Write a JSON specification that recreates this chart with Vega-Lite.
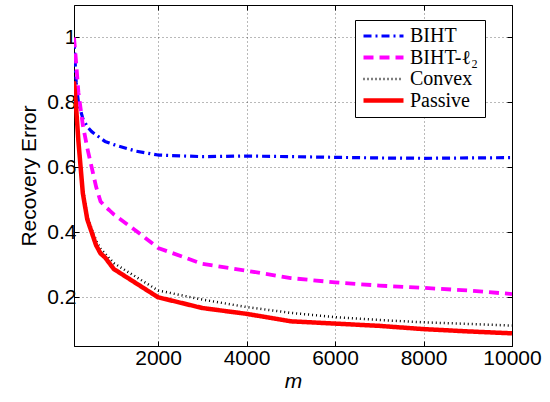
{
  "$schema": "https://vega.github.io/schema/vega-lite/v6.json",
  "width": 438,
  "height": 341,
  "autosize": "none",
  "padding": {"left": 74, "top": 5, "right": 38, "bottom": 56},
  "config": {
    "view": {"stroke": "black", "strokeWidth": 1},
    "font": "Liberation Sans"
  },
  "data": {
    "values": [
      {"m": 100, "err": 0.99, "method": "BIHT"},
      {"m": 150, "err": 0.86, "method": "BIHT"},
      {"m": 200, "err": 0.80, "method": "BIHT"},
      {"m": 300, "err": 0.75, "method": "BIHT"},
      {"m": 400, "err": 0.725, "method": "BIHT"},
      {"m": 500, "err": 0.71, "method": "BIHT"},
      {"m": 600, "err": 0.70, "method": "BIHT"},
      {"m": 700, "err": 0.69, "method": "BIHT"},
      {"m": 800, "err": 0.68, "method": "BIHT"},
      {"m": 900, "err": 0.675, "method": "BIHT"},
      {"m": 1000, "err": 0.67, "method": "BIHT"},
      {"m": 1500, "err": 0.65, "method": "BIHT"},
      {"m": 2000, "err": 0.638, "method": "BIHT"},
      {"m": 3000, "err": 0.633, "method": "BIHT"},
      {"m": 4000, "err": 0.635, "method": "BIHT"},
      {"m": 5000, "err": 0.633, "method": "BIHT"},
      {"m": 6000, "err": 0.631, "method": "BIHT"},
      {"m": 7000, "err": 0.629, "method": "BIHT"},
      {"m": 8000, "err": 0.628, "method": "BIHT"},
      {"m": 9000, "err": 0.629, "method": "BIHT"},
      {"m": 10000, "err": 0.63, "method": "BIHT"},
      {"m": 100, "err": 1.0, "method": "BIHT-ℓ₂"},
      {"m": 150, "err": 0.92, "method": "BIHT-ℓ₂"},
      {"m": 200, "err": 0.83, "method": "BIHT-ℓ₂"},
      {"m": 300, "err": 0.73, "method": "BIHT-ℓ₂"},
      {"m": 400, "err": 0.66, "method": "BIHT-ℓ₂"},
      {"m": 500, "err": 0.60, "method": "BIHT-ℓ₂"},
      {"m": 600, "err": 0.54, "method": "BIHT-ℓ₂"},
      {"m": 700, "err": 0.495, "method": "BIHT-ℓ₂"},
      {"m": 800, "err": 0.48, "method": "BIHT-ℓ₂"},
      {"m": 900, "err": 0.468, "method": "BIHT-ℓ₂"},
      {"m": 1000, "err": 0.455, "method": "BIHT-ℓ₂"},
      {"m": 1500, "err": 0.405, "method": "BIHT-ℓ₂"},
      {"m": 2000, "err": 0.352, "method": "BIHT-ℓ₂"},
      {"m": 3000, "err": 0.303, "method": "BIHT-ℓ₂"},
      {"m": 4000, "err": 0.282, "method": "BIHT-ℓ₂"},
      {"m": 5000, "err": 0.259, "method": "BIHT-ℓ₂"},
      {"m": 6000, "err": 0.246, "method": "BIHT-ℓ₂"},
      {"m": 7000, "err": 0.236, "method": "BIHT-ℓ₂"},
      {"m": 8000, "err": 0.229, "method": "BIHT-ℓ₂"},
      {"m": 9000, "err": 0.221, "method": "BIHT-ℓ₂"},
      {"m": 10000, "err": 0.21, "method": "BIHT-ℓ₂"},
      {"m": 100, "err": 0.87, "method": "Convex"},
      {"m": 150, "err": 0.785, "method": "Convex"},
      {"m": 200, "err": 0.69, "method": "Convex"},
      {"m": 250, "err": 0.61, "method": "Convex"},
      {"m": 300, "err": 0.535, "method": "Convex"},
      {"m": 400, "err": 0.45, "method": "Convex"},
      {"m": 500, "err": 0.41, "method": "Convex"},
      {"m": 600, "err": 0.375, "method": "Convex"},
      {"m": 700, "err": 0.35, "method": "Convex"},
      {"m": 800, "err": 0.335, "method": "Convex"},
      {"m": 900, "err": 0.32, "method": "Convex"},
      {"m": 1000, "err": 0.305, "method": "Convex"},
      {"m": 2000, "err": 0.221, "method": "Convex"},
      {"m": 3000, "err": 0.193, "method": "Convex"},
      {"m": 4000, "err": 0.17, "method": "Convex"},
      {"m": 5000, "err": 0.152, "method": "Convex"},
      {"m": 6000, "err": 0.139, "method": "Convex"},
      {"m": 7000, "err": 0.13, "method": "Convex"},
      {"m": 8000, "err": 0.123, "method": "Convex"},
      {"m": 9000, "err": 0.118, "method": "Convex"},
      {"m": 10000, "err": 0.113, "method": "Convex"},
      {"m": 100, "err": 0.865, "method": "Passive"},
      {"m": 150, "err": 0.78, "method": "Passive"},
      {"m": 200, "err": 0.68, "method": "Passive"},
      {"m": 250, "err": 0.60, "method": "Passive"},
      {"m": 300, "err": 0.52, "method": "Passive"},
      {"m": 400, "err": 0.44, "method": "Passive"},
      {"m": 500, "err": 0.40, "method": "Passive"},
      {"m": 600, "err": 0.36, "method": "Passive"},
      {"m": 700, "err": 0.335, "method": "Passive"},
      {"m": 800, "err": 0.323, "method": "Passive"},
      {"m": 900, "err": 0.305, "method": "Passive"},
      {"m": 1000, "err": 0.287, "method": "Passive"},
      {"m": 2000, "err": 0.2, "method": "Passive"},
      {"m": 3000, "err": 0.167, "method": "Passive"},
      {"m": 4000, "err": 0.149, "method": "Passive"},
      {"m": 5000, "err": 0.126, "method": "Passive"},
      {"m": 6000, "err": 0.119, "method": "Passive"},
      {"m": 7000, "err": 0.112, "method": "Passive"},
      {"m": 8000, "err": 0.102, "method": "Passive"},
      {"m": 9000, "err": 0.095, "method": "Passive"},
      {"m": 10000, "err": 0.089, "method": "Passive"}
    ]
  },
  "layer": [
    {
      "mark": {"type": "line", "clip": true, "strokeCap": "butt", "strokeJoin": "round"},
      "encoding": {
        "x": {
          "field": "m",
          "type": "quantitative",
          "scale": {"domain": [100, 10000], "nice": false, "zero": false},
          "axis": {
            "values": [2000, 4000, 6000, 8000, 10000],
            "format": "d",
            "title": "m",
            "titleFontStyle": "italic",
            "titleFontWeight": "normal",
            "titleFontSize": 21,
            "titleColor": "black",
            "titlePadding": 2,
            "labelFontSize": 21,
            "labelColor": "black",
            "labelPadding": 6,
            "labelFlush": false,
            "grid": true,
            "gridDash": [1, 3],
            "gridColor": "#000000",
            "gridOpacity": 0.55,
            "domainColor": "black",
            "tickColor": "black",
            "tickSize": -5
          }
        },
        "y": {
          "field": "err",
          "type": "quantitative",
          "scale": {"domain": [0.05, 1.1], "nice": false, "zero": false},
          "axis": {
            "values": [0.2, 0.4, 0.6, 0.8, 1],
            "format": "~g",
            "title": "Recovery Error",
            "titleFontWeight": "normal",
            "titleFontSize": 21,
            "titleColor": "black",
            "titlePadding": 7,
            "labelFontSize": 21,
            "labelColor": "black",
            "labelPadding": 3,
            "grid": true,
            "gridDash": [1, 3],
            "gridColor": "#000000",
            "gridOpacity": 0.55,
            "domainColor": "black",
            "tickColor": "black",
            "tickSize": -5
          }
        },
        "color": {
          "field": "method",
          "type": "nominal",
          "scale": {"domain": ["BIHT", "BIHT-ℓ₂", "Convex", "Passive"], "range": ["#0000ff", "#ff00ff", "#000000", "#ff0000"]},
          "legend": {
            "title": null,
            "orient": "none",
            "legendX": 281,
            "legendY": 15,
            "strokeColor": "black",
            "fillColor": "white",
            "padding": 6,
            "cornerRadius": 0,
            "labelFont": "Liberation Serif",
            "labelFontSize": 20,
            "labelColor": "black",
            "symbolType": "stroke",
            "symbolSize": 1600,
            "labelOffset": 4,
            "rowPadding": 1.5,
            "clipHeight": 20
          }
        },
        "strokeDash": {
          "field": "method",
          "type": "nominal",
          "scale": {"domain": ["BIHT", "BIHT-ℓ₂", "Convex", "Passive"], "range": [[8, 4, 2, 4], [10, 6], [1, 3], [1, 0]]},
          "legend": {"title": null}
        },
        "strokeWidth": {
          "field": "method",
          "type": "nominal",
          "scale": {"type": "ordinal", "domain": ["BIHT", "BIHT-ℓ₂", "Convex", "Passive"], "range": [3.2, 3.8, 2.5, 4.5]},
          "legend": {"title": null}
        }
      }
    },
    {
      "mark": {"type": "point", "opacity": 0},
      "encoding": {
        "x": {
          "field": "m",
          "type": "quantitative",
          "axis": {"orient": "top", "values": [2000, 4000, 6000, 8000, 10000], "labels": false, "title": null, "grid": false, "domain": false, "tickColor": "black", "tickSize": -5}
        },
        "y": {
          "field": "err",
          "type": "quantitative",
          "axis": {"orient": "right", "values": [0.2, 0.4, 0.6, 0.8, 1], "labels": false, "title": null, "grid": false, "domain": false, "tickColor": "black", "tickSize": -5}
        }
      }
    }
  ],
  "resolve": {"axis": {"x": "independent", "y": "independent"}}
}
